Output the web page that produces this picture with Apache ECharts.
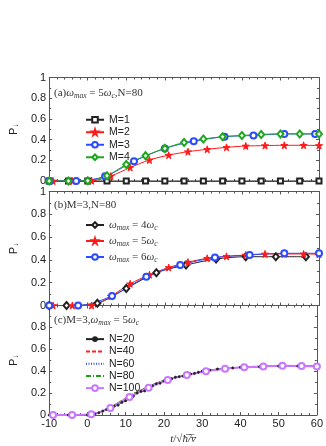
<!DOCTYPE html>
<html>
<head>
<meta charset="utf-8">
<script src="https://cdn.jsdelivr.net/npm/echarts@6/dist/echarts.min.js"></script>
<style>
  html, body { margin: 0; padding: 0; background: #fff; }
  #chart { width: 326px; height: 446px; }
</style>
</head>
<body>
<div id="chart"></div>
<script>
// panel (a): different M, omega_max = 5 omega_c, N = 80
const aM1X = [-10, -5, 0, 5, 10, 15, 20, 25, 30, 35, 40, 45, 50, 55, 60];
const aM1Y = [0, 0, 0, 0, 0, 0, 0, 0, 0, 0, 0, 0, 0, 0, 0];
const aM2X = [-9, -4, 1, 6, 11, 16, 21, 26, 31, 36, 41, 46, 51, 56, 60];
const aM2Y = [0, 0, 0.002, 0.048, 0.13, 0.203, 0.25, 0.283, 0.306, 0.325, 0.338, 0.342, 0.345, 0.345, 0.343];
const aM3X = [-10, -3, 4.5, 12, 20, 27.5, 35.5, 43, 51, 59];
const aM3Y = [0, 0, 0.045, 0.19, 0.315, 0.383, 0.428, 0.44, 0.455, 0.455];
const aM4X = [-10, -5, 0, 5, 10, 15, 20, 25, 30, 35, 40, 45, 50, 55, 60];
const aM4Y = [0, 0, 0.002, 0.05, 0.16, 0.245, 0.315, 0.373, 0.405, 0.428, 0.44, 0.45, 0.455, 0.455, 0.455];

// panel (b): M = 3, N = 80, different omega_max
const bW4X = [-10, -5.5, 2.5, 10, 17.8, 25.5, 33.3, 41, 48.8, 56.6];
const bW4Y = [0, 0, 0.02, 0.15, 0.288, 0.355, 0.408, 0.428, 0.428, 0.428];
const bW5X = [-9, -4, 1, 6, 11, 16, 21, 26, 31, 36, 41, 46, 51, 56, 60];
const bW5Y = [0, 0, 0, 0.082, 0.19, 0.27, 0.333, 0.38, 0.414, 0.431, 0.443, 0.452, 0.452, 0.452, 0.45];
const bW6X = [-10, -2.5, 6.3, 15.2, 24, 33, 42, 51, 60];
const bW6Y = [0, 0, 0.083, 0.253, 0.355, 0.42, 0.443, 0.458, 0.458];

// panel (c): M = 3, omega_max = 5 omega_c, different N
const cN20X = [-10, -5, 0, 1, 2, 3, 4, 5, 6, 7, 8, 9, 10, 11, 12, 13, 14, 15, 16, 17, 18, 19, 20, 21, 22, 23, 24, 25, 26, 27, 28, 29, 30, 32, 34, 36, 38, 40, 45, 50, 55, 60];
const cN20Y = [0, 0, 0, 0.003, 0.01, 0.02, 0.035, 0.05, 0.065, 0.08, 0.09, 0.115, 0.13, 0.15, 0.17, 0.2, 0.215, 0.22, 0.24, 0.265, 0.285, 0.29, 0.31, 0.315, 0.33, 0.345, 0.35, 0.355, 0.37, 0.375, 0.38, 0.39, 0.4, 0.41, 0.42, 0.425, 0.43, 0.435, 0.44, 0.447, 0.447, 0.445];
const cDenseX = [-10, -6, -2, 0, 2, 4, 6, 8, 10, 12, 14, 16, 18, 20, 22, 24, 26, 28, 30, 34, 38, 42, 46, 50, 54, 58, 60];
const cN40Y = [0, 0, 0, 0, 0.012, 0.04, 0.075, 0.112, 0.155, 0.195, 0.228, 0.26, 0.29, 0.318, 0.335, 0.352, 0.368, 0.38, 0.395, 0.415, 0.43, 0.438, 0.445, 0.45, 0.45, 0.448, 0.447];
const cN60Y = [0, 0, 0, 0, 0.01, 0.038, 0.072, 0.11, 0.152, 0.192, 0.226, 0.258, 0.288, 0.314, 0.334, 0.35, 0.366, 0.379, 0.393, 0.414, 0.429, 0.437, 0.444, 0.449, 0.449, 0.447, 0.446];
const cN80Y = [0, 0, 0, 0, 0.012, 0.04, 0.074, 0.113, 0.156, 0.196, 0.23, 0.262, 0.292, 0.318, 0.337, 0.353, 0.369, 0.382, 0.396, 0.417, 0.432, 0.441, 0.448, 0.452, 0.452, 0.45, 0.449];
const cN100X = [-9, -4, 1, 6, 11, 16, 21, 26, 31, 36, 41, 46, 51, 56, 60];
const cN100Y = [0, 0, 0.006, 0.065, 0.165, 0.25, 0.32, 0.365, 0.4, 0.422, 0.435, 0.443, 0.449, 0.447, 0.444];

const xTicks = { min: -10, max: 60, interval: 10 };
const yTicks = { min: 0, max: 1, interval: 0.2 };

const sans = 'Liberation Sans';
const serif = 'Liberation Serif';
const ink = '#222';
const frame = '#555';
const star = 'path://M50,0 L61,35 L98,35 L68,57 L79,91 L50,70 L21,91 L32,57 L2,35 L39,35 Z';
const clear = 'rgba(0,0,0,0)';

const mathRich = {
  n: { fontFamily: serif, fontWeight: 'normal', fontSize: 11, color: '#333' },
  i: { fontFamily: serif, fontWeight: 'normal', fontStyle: 'italic', fontSize: 11, color: '#333' },
  s: { fontFamily: serif, fontWeight: 'normal', fontStyle: 'italic', fontSize: 7.5, color: '#333', padding: [6, 0, 0, 0] }
};

function pairs(xs, ys) {
  return xs.map(function (x, i) { return [x, ys[i]]; });
}

const grids = [
  { left: 45, width: 274, top: 77.5, height: 103.5 },
  { left: 45, width: 274, top: 191.5, height: 114 },
  { left: 45, width: 274, top: 305.5, height: 113.5 }
];

let xAxes = [], yAxes = [];
grids.forEach(function (g, i) {
  const last = i === 2;
  ['bottom', 'top'].forEach(function (pos) {
    xAxes.push({
      type: 'value', gridIndex: i, position: pos,
      min: xTicks.min, max: xTicks.max, interval: xTicks.interval,
      axisLine: { onZero: false, lineStyle: { color: frame, width: 1 } },
      axisTick: { inside: true, length: 3, lineStyle: { color: frame } },
      minorTick: { show: true, splitNumber: 5, length: 2, lineStyle: { color: frame } },
      splitLine: { show: false },
      axisLabel: { show: last && pos === 'bottom', color: ink, fontFamily: sans, fontSize: 11, margin: 3 },
      name: last && pos === 'bottom' ? '{i|t}{n|/√}{i|ħ̅/̅v̅}' : '',
      nameLocation: 'middle', nameGap: 19,
      nameTextStyle: { rich: mathRich }
    });
  });
  ['left', 'right'].forEach(function (pos) {
    yAxes.push({
      type: 'value', gridIndex: i, position: pos,
      min: yTicks.min, max: yTicks.max, interval: yTicks.interval,
      axisLine: { onZero: false, lineStyle: { color: frame, width: 1 } },
      axisTick: { inside: true, length: 3, lineStyle: { color: frame } },
      minorTick: { show: true, splitNumber: 2, length: 2, lineStyle: { color: frame } },
      splitLine: { show: false },
      axisLabel: { show: pos === 'left', showMaxLabel: !last, color: ink, fontFamily: sans, fontSize: 11, margin: 3 },
      name: pos === 'left' ? '{p|P}{s|↓}' : '',
      nameLocation: 'middle', nameRotate: 90, nameGap: 24,
      nameTextStyle: {
        rich: {
          p: { fontFamily: sans, fontSize: 11, color: ink },
          s: { fontFamily: sans, fontSize: 8, color: ink, padding: [5, 0, 0, 0] }
        }
      }
    });
  });
});

function line(name, panel, xs, ys, color, symbol, size, extra) {
  return Object.assign({
    type: 'line', name: name,
    xAxisIndex: panel * 2, yAxisIndex: panel * 2,
    data: pairs(xs, ys),
    smooth: 0.3,
    showAllSymbol: true,
    symbol: symbol, symbolSize: size,
    color: color,
    lineStyle: { color: color, width: 1 },
    itemStyle: { color: color, borderColor: color, borderWidth: 1 },
    emphasis: { disabled: true }
  }, extra || {});
}

const series = [
  line('M=1', 0, aM1X, aM1Y, '#222', 'emptyRect', 5),
  line('M=2', 0, aM2X, aM2Y, '#ff1a1a', star, 7),
  line('M=3', 0, aM3X, aM3Y, '#2a4bff', 'emptyCircle', 6),
  line('M=4', 0, aM4X, aM4Y, '#1fa61f', 'emptyDiamond', [6, 7]),

  line('w4', 1, bW4X, bW4Y, '#222', 'emptyDiamond', [6, 7]),
  line('w5', 1, bW5X, bW5Y, '#ff1a1a', star, 7),
  line('w6', 1, bW6X, bW6Y, '#2a4bff', 'emptyCircle', 6),

  line('N=20', 2, cN20X, cN20Y, '#222', 'circle', 2),
  line('N=40', 2, cDenseX, cN40Y, '#ff2020', 'none', 0, { lineStyle: { color: '#ff2020', width: 1, type: [4, 2] } }),
  line('N=60', 2, cDenseX, cN60Y, '#3050ff', 'none', 0, { lineStyle: { color: '#3050ff', width: 1, type: [1, 1.5] } }),
  line('N=80', 2, cDenseX, cN80Y, '#19a019', 'none', 0, { lineStyle: { color: '#19a019', width: 1, type: [5, 2, 1, 2] } }),
  line('N=100', 2, cN100X, cN100Y, '#c877ff', 'emptyCircle', 6, {
    lineStyle: { color: '#c877ff', width: 2 },
    itemStyle: { color: '#c877ff', borderColor: '#c877ff', borderWidth: 1.5 }
  })
];

const omegaLegend = { w4: '4', w5: '5', w6: '6' };

const legendBase = {
  orient: 'vertical', left: 80, itemWidth: 18, itemHeight: 7, itemGap: 0,
  selectedMode: false
};

let myChart = echarts.init(document.getElementById('chart'), null, { renderer: 'canvas' });
myChart.setOption({
  animation: false,
  backgroundColor: '#fff',
  grid: grids,
  xAxis: xAxes,
  yAxis: yAxes,
  title: [
    { text: '{n|(a)}{i|ω}{s|max}{n| = 5}{i|ω}{s|c}{n|,N=80}', left: 49, top: 81, textStyle: { fontWeight: 'normal', rich: mathRich } },
    { text: '{n|(b)M=3,N=80}', left: 49, top: 195, textStyle: { fontWeight: 'normal', rich: mathRich } },
    { text: '{n|(c)M=3,}{i|ω}{s|max}{n| = 5}{i|ω}{s|c}', left: 49, top: 308, textStyle: { fontWeight: 'normal', rich: mathRich } }
  ],
  legend: [
    Object.assign({}, legendBase, {
      data: ['M=1', 'M=2', 'M=3', 'M=4'], top: 108.5,
      textStyle: { fontFamily: sans, fontSize: 10.5, color: ink, lineHeight: 12.5 }
    }),
    Object.assign({}, legendBase, {
      data: ['w4', 'w5', 'w6'], top: 212,
      formatter: function (name) { return '{i|ω}{s|max}{n| = ' + omegaLegend[name] + '}{i|ω}{s|c}'; },
      textStyle: { lineHeight: 16, rich: mathRich }
    }),
    Object.assign({}, legendBase, {
      data: [
        { name: 'N=20', itemStyle: { color: '#222', borderWidth: 0 } },
        { name: 'N=40', itemStyle: { color: clear, borderColor: clear } },
        { name: 'N=60', itemStyle: { color: clear, borderColor: clear } },
        { name: 'N=80', itemStyle: { color: clear, borderColor: clear } },
        'N=100'
      ],
      top: 328,
      textStyle: { fontFamily: sans, fontSize: 10.5, color: ink, lineHeight: 12.25 }
    })
  ],
  series: series
});
</script>
</body>
</html>
